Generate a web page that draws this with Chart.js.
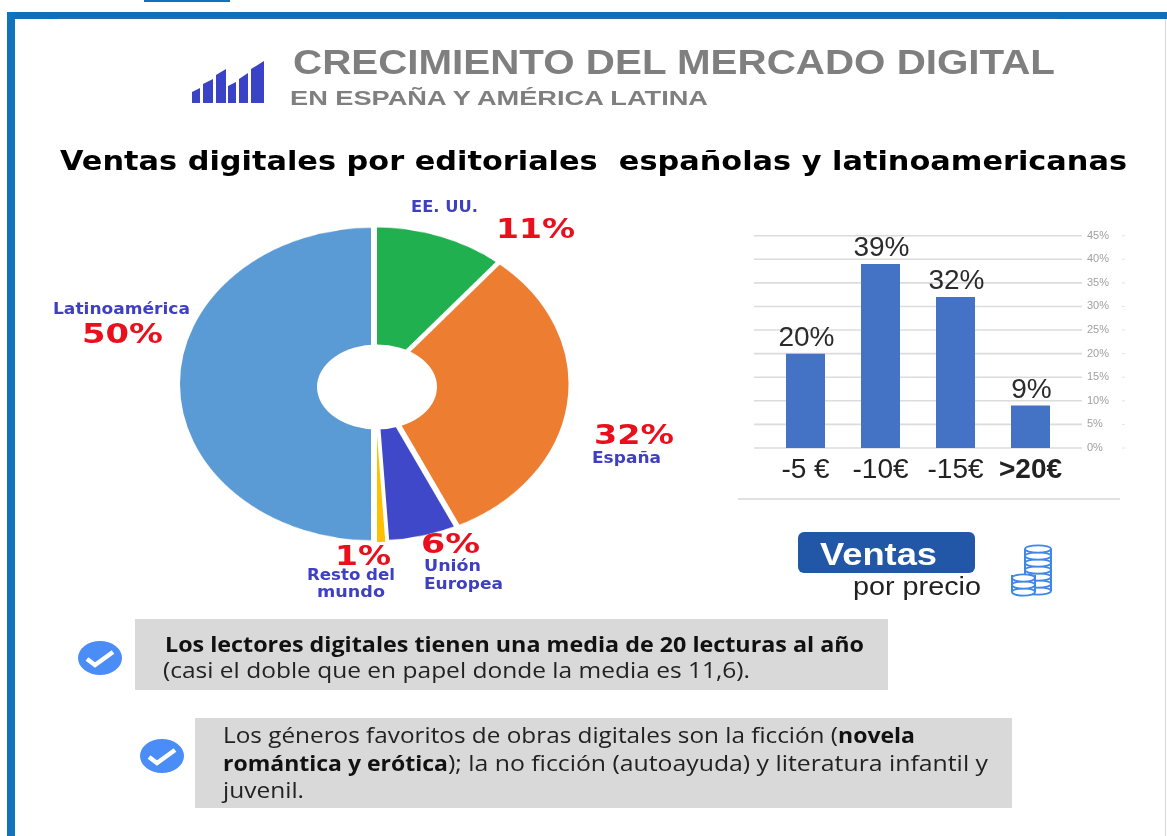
<!DOCTYPE html>
<html lang="es">
<head>
<meta charset="utf-8">
<title>Crecimiento del mercado digital</title>
<script src="https://cdn.jsdelivr.net/npm/chart.js@4"></script>
<style>
html,body{margin:0;padding:0;background:#fff;width:1167px;height:836px;overflow:hidden}
#page{position:relative;width:1167px;height:836px;filter:blur(.45px)}
#art{position:absolute;left:0;top:0;z-index:2;pointer-events:none}
#art text{white-space:pre}
#pieBox{position:absolute;left:173.5px;top:183.5px;width:400px;height:400px;transform:scaleY(.806);transform-origin:50% 50%;z-index:1}
#barBox{position:absolute;left:740px;top:221px;width:400px;height:269px;z-index:1}
</style>
</head>
<body>
<div id="page">
<svg id="art" width="1167" height="836" xmlns="http://www.w3.org/2000/svg"></svg>
<div id="pieBox"><canvas id="pie" width="400" height="400"></canvas></div>
<div id="barBox"><canvas id="bar" width="400" height="269"></canvas></div>
</div>
<script>
const regions = ['EE. UU.', 'España', 'Unión Europea', 'Resto del mundo', 'Latinoamérica'];
const regionShares = [11, 32, 6, 1, 50];
const regionColors = ['#21b04f', '#ed7d31', '#3f48c8', '#ffc000', '#5b9bd5'];
const priceBands = ['-5 €', '-10€', '-15€', '>20€'];
const priceShares = [20, 39, 32, 9];
const priceMax = 45;
const priceStep = 5;

const LIB = '"Liberation Sans", Arial, sans-serif';
const DJV = '"DejaVu Sans", Verdana, sans-serif';
const OPS = '"Open Sans", sans-serif';
const PURPLE = '#3f3fc4', RED = '#ea0f1d', GREY = '#7f7f7f', INK = '#222';

// text, x, baseline, width, size, weight, family, colour
const texts = [
  ['CRECIMIENTO DEL MERCADO DIGITAL', 293, 74, 762, 35, 700, LIB, GREY],
  ['EN ESPAÑA Y AMÉRICA LATINA', 290, 105, 418, 21, 700, LIB, GREY],
  ['Ventas digitales por editoriales  españolas y latinoamericanas', 60, 170, 1067, 27, 700, DJV, '#000'],
  [regions[0], 411, 212, 67, 15, 700, DJV, PURPLE],
  [regionShares[0] + '%', 496, 238, 79, 27, 700, DJV, RED],
  [regions[4], 53, 314, 137, 15, 700, DJV, PURPLE],
  [regionShares[4] + '%', 82, 343, 81, 27, 700, DJV, RED],
  [regionShares[1] + '%', 594, 444, 80, 27, 700, DJV, RED],
  [regions[1], 592, 463, 69, 15, 700, DJV, PURPLE],
  [regionShares[3] + '%', 335, 565, 56, 27, 700, DJV, RED],
  ['Resto del', 307, 580, 88, 15, 700, DJV, PURPLE],
  ['mundo', 317, 597, 68, 15, 700, DJV, PURPLE],
  [regionShares[2] + '%', 421, 553, 59, 27, 700, DJV, RED],
  ['Unión', 424, 571, 57, 15, 700, DJV, PURPLE],
  ['Europea', 424, 589, 79, 15, 700, DJV, PURPLE],
  ['Ventas', 820, 565, 117, 31, 700, LIB, '#fff'],
  ['por precio', 853, 595, 128, 25, 400, LIB, INK],
  ['Los lectores digitales tienen una media de 20 lecturas al año', 165, 652, 699, 21, 700, OPS, '#111'],
  ['(casi el doble que en papel donde la media es 11,6).', 163, 678, 587, 21, 400, OPS, INK],
  ['Los géneros favoritos de obras digitales son la ficción (', 223, 743, 615, 21, 400, OPS, INK],
  ['novela', 838, 743, 77, 21, 700, OPS, '#111'],
  ['romántica y erótica', 223, 771, 225, 21, 700, OPS, '#111'],
  ['); la no ficción (autoayuda) y literatura infantil y', 448, 771, 540, 21, 400, OPS, INK],
  ['juvenil.', 223, 798, 81, 21, 400, OPS, INK]
];

const NS = 'http://www.w3.org/2000/svg';
const art = document.getElementById('art');
function el(tag, attrs, text) {
  const n = document.createElementNS(NS, tag);
  for (const k in attrs) n.setAttribute(k, attrs[k]);
  if (text !== undefined) n.textContent = text;
  art.appendChild(n);
  return n;
}
// frame
el('rect', {x:144, y:0, width:86, height:2, fill:'#1170c0'});
el('rect', {x:7, y:12, width:1160, height:7, fill:'#0f6fbb'});
el('rect', {x:58, y:17, width:1000, height:2, fill:'#2f6aa0'});
el('rect', {x:7, y:12, width:8, height:824, fill:'#0f73bd'});
el('rect', {x:1165, y:19, width:1, height:817, fill:'#d5d9de'});
// logo
[[192,200,92,88],[203,213,84,79],[216,226,75,69],[228,236,86,82],[239,248,79,73],[251,264,69,61]].forEach(b => {
  el('polygon', {points:`${b[0]},${b[2]} ${b[1]},${b[3]} ${b[1]},103 ${b[0]},103`, fill:'#3a42c8'});
});
// doughnut hole of the squeezed picture
el('ellipse', {cx:377, cy:387, rx:60, ry:42.5, fill:'#fff'});
// grey boxes, rule, button
el('rect', {x:135, y:619, width:753, height:71, fill:'#d9d9d9'});
el('rect', {x:195, y:718, width:817, height:90, fill:'#d9d9d9'});
el('rect', {x:738, y:498, width:382, height:2, fill:'#dfe1e3'});
el('rect', {x:798, y:532, width:177, height:41, rx:6, fill:'#2256a6'});
// check marks
[[100,658],[162,756]].forEach(c => {
  el('ellipse', {cx:c[0], cy:c[1], rx:22, ry:17, fill:'#4a8df6'});
  el('polyline', {points:`${c[0]-13},${c[1]+1} ${c[0]-5},${c[1]+7} ${c[0]+13},${c[1]-6}`, fill:'none', stroke:'#fff', 'stroke-width':4.5});
});
// coins
function coinStack(cx, top, bottom, rx) {
  el('rect', {x:cx-rx, y:top, width:rx*2, height:bottom-top, fill:'#fff'});
  el('path', {d:`M${cx-rx} ${top}V${bottom}M${cx+rx} ${top}V${bottom}`, stroke:'#3f87e6', 'stroke-width':2, fill:'none'});
  for (let y = bottom; y >= top; y -= 7) {
    el('ellipse', {cx:cx, cy:y, rx:rx, ry:3.6, fill:'#fff', stroke:'#3f87e6', 'stroke-width':1.8});
  }
}
coinStack(1038, 549, 591, 13);
coinStack(1023.5, 575, 592, 11.5);
// text
texts.forEach(t => {
  el('text', {x:t[1], y:t[2], textLength:t[3], lengthAdjust:'spacingAndGlyphs',
    'font-size':t[4], 'font-weight':t[5], 'font-family':t[6], fill:t[7]}, t[0]);
});

new Chart(document.getElementById('pie'), {
  type: 'doughnut',
  data: { labels: regions, datasets: [{ data: regionShares, backgroundColor: regionColors, borderColor: '#fff', borderWidth: [5, 5, 6, 2, 6] }] },
  options: {
    responsive: false, animation: false, cutout: '20%',
    plugins: { legend: { display: false }, tooltip: { enabled: false } }
  }
});

const gridPlugin = {
  id: 'wideGrid',
  beforeDatasetsDraw(chart) {
    const { ctx, chartArea: a, scales: { y } } = chart;
    ctx.save();
    y.ticks.forEach(t => {
      const py = y.getPixelForValue(t.value);
      ctx.strokeStyle = '#dcdcdc';
      ctx.lineWidth = 1.6;
      ctx.beginPath();
      ctx.moveTo(a.left - 14, py);
      ctx.lineTo(a.right + 14, py);
      ctx.stroke();
      ctx.strokeStyle = '#e4e4e4';
      ctx.lineWidth = 1;
      ctx.beginPath();
      ctx.moveTo(a.right + 54, py);
      ctx.lineTo(a.right + 57, py);
      ctx.stroke();
    });
    ctx.restore();
  }
};
const valuePlugin = {
  id: 'barValues',
  afterDatasetsDraw(chart) {
    const { ctx } = chart;
    ctx.save();
    ctx.font = '28px ' + LIB;
    ctx.fillStyle = '#2b2b2b';
    ctx.textAlign = 'center';
    ctx.textBaseline = 'alphabetic';
    chart.getDatasetMeta(0).data.forEach((bar, i) => {
      ctx.fillText(priceShares[i] + '%', bar.x + 1, bar.y - 8);
    });
    ctx.restore();
  }
};
new Chart(document.getElementById('bar'), {
  type: 'bar',
  data: { labels: priceBands, datasets: [{ data: priceShares, backgroundColor: '#4472c4', barPercentage: 0.52, categoryPercentage: 1 }] },
  plugins: [gridPlugin, valuePlugin],
  options: {
    responsive: false, animation: false,
    layout: { padding: { left: 28, top: 14.7, right: 0, bottom: 0 }, autoPadding: false },
    plugins: { legend: { display: false }, tooltip: { enabled: false } },
    scales: {
      x: {
        grid: { display: false, drawTicks: false }, border: { display: false },
        ticks: {
          color: '#222', padding: 5, maxRotation: 0,
          font: c => ({ size: 28, family: LIB, weight: priceBands[c.index] === '>20€' ? '700' : '400' })
        },
        afterFit(s) { s.height = 42; }
      },
      y: {
        position: 'right', min: 0, max: priceMax,
        grid: { display: false, drawTicks: false }, border: { display: false },
        ticks: { stepSize: priceStep, color: '#a0a0a0', padding: 19, font: { size: 11, family: LIB }, callback: v => v + '%' },
        afterFit(s) { s.width = 72; s.paddingTop = 0; s.paddingBottom = 0; }
      }
    }
  }
});
</script>
</body>
</html>
